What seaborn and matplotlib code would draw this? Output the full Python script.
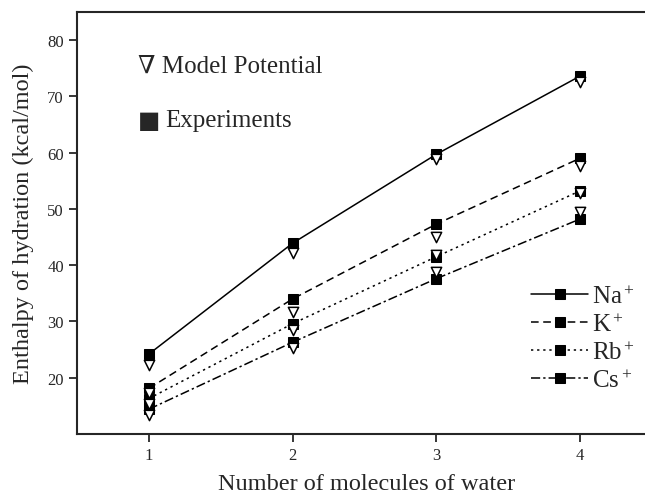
import pandas as pd
import matplotlib
matplotlib.use("Agg")
import matplotlib.pyplot as plt
import seaborn as sns

# Data
water = [1, 2, 3, 4]
ions = ["Na", "K", "Rb", "Cs"]
ion_labels = ["Na$^+$", "K$^+$", "Rb$^+$", "Cs$^+$"]
na_exp = [24.2, 43.9, 59.7, 73.6]
na_model = [22.3, 42.2, 58.9, 72.6]
k_exp = [18.1, 34.0, 47.3, 59.0]
k_model = [17.2, 31.6, 45.0, 57.7]
rb_exp = [16.3, 29.6, 41.5, 53.2]
rb_model = [15.4, 28.5, 41.8, 52.9]
cs_exp = [14.4, 26.3, 37.6, 48.2]
cs_model = [13.4, 25.3, 38.8, 49.4]

exp_vals = [na_exp, k_exp, rb_exp, cs_exp]
model_vals = [na_model, k_model, rb_model, cs_model]

rows = []
for ion, e, m in zip(ions, exp_vals, model_vals):
    for n, ev, mv in zip(water, e, m):
        rows.append({"ion": ion, "n": n, "exp": ev, "model": mv})
df = pd.DataFrame(rows)

sns.set_style("ticks")
plt.rcParams.update({
    "font.family": ["Liberation Serif", "DejaVu Serif"],
    "mathtext.fontset": "custom",
    "mathtext.rm": "Liberation Serif",
    "mathtext.it": "Liberation Serif:italic",
    "axes.linewidth": 1.5,
    "xtick.major.width": 1.3,
    "ytick.major.width": 1.3,
    "xtick.major.size": 6,
    "ytick.major.size": 6,
    "xtick.direction": "out",
    "ytick.direction": "out",
})

fig = plt.figure(figsize=(6.45, 5.02), dpi=100)
ax = fig.add_axes([77 / 645, 67 / 502, 603.5 / 645, 422 / 502])

dashes = {"Na": "", "K": (5, 3), "Rb": (1.5, 2.5), "Cs": (6, 2, 1.5, 2)}
markers = {"Na": "s", "K": "s", "Rb": "s", "Cs": "s"}

# experiment lines with filled squares
sns.lineplot(
    data=df, x="n", y="exp", style="ion", style_order=ions,
    dashes=dashes, markers=markers, color="black",
    markersize=6.5, markeredgecolor="black", markerfacecolor="black",
    linewidth=1.1, legend=False, ax=ax,
)
# model potential as open down-triangles
sns.scatterplot(
    data=df, x="n", y="model", marker="v", s=55,
    facecolor="white", edgecolor="black", linewidth=1.1,
    legend=False, ax=ax, zorder=5,
)

ax.set_xlim(0.5, 4.7)
ax.set_ylim(10, 85)
ax.set_xticks(water)
ax.set_yticks(range(20, 81, 10))
ax.tick_params(labelsize=12)
ax.spines["right"].set_visible(False)

ax.set_xlabel("Number of molecules of water", fontsize=17.5)
ax.xaxis.set_label_coords(0.48, -0.093)
ax.set_ylabel("Enthalpy of hydration (kcal/mol)", fontsize=17.5)
ax.yaxis.set_label_coords(-0.071, 0.5)

ax.text(0.101, 0.872, "\u2207 Model Potential", transform=ax.transAxes,
        fontsize=18, va="center", ha="left",
        family=["Liberation Serif", "DejaVu Serif"])
ax.text(0.101, 0.744, "\u25a0", transform=ax.transAxes,
        fontsize=17, va="center", ha="left", family="DejaVu Sans")
ax.text(0.146, 0.744, "Experiments", transform=ax.transAxes,
        fontsize=18, va="center", ha="left")

handles = list(ax.lines[:4])
ax.legend(handles, ion_labels, loc="upper left", bbox_to_anchor=(0.752, 0.353),
          frameon=False, fontsize=18, handlelength=2.3, handletextpad=0.15,
          labelspacing=0.2, borderpad=0, borderaxespad=0, numpoints=1)

fig.savefig("out.png", dpi=100)
